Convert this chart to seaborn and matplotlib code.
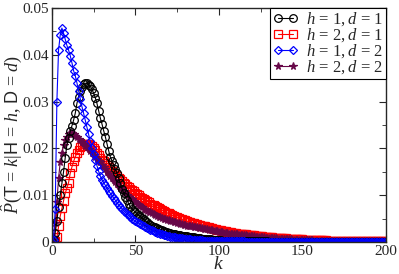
import matplotlib
matplotlib.use("Agg")
import matplotlib.pyplot as plt
import seaborn as sns
import numpy as np

# k values, probabilities in units of 1e-4
k = list(range(201))

p_h1_d1 = [0, 5, 20, 45, 75, 100, 125, 150, 180, 207,
           222, 236, 248, 260, 275, 296, 310, 322, 332, 337,
           339, 339, 336, 333, 326, 318, 308, 296, 280, 265,
           252, 238, 225, 210, 195, 182, 173, 164, 155, 147,
           136, 125, 114, 104, 96, 89, 82, 75, 71, 67,
           64, 60, 57, 54, 51, 48, 45, 42, 39, 36,
           34, 32, 31, 29, 28, 26, 25, 23, 22, 21,
           20, 19, 18, 17, 16, 15, 15, 14, 13, 13,
           12, 12, 11, 11, 10, 10, 9, 9, 8, 8,
           7, 7, 7, 6, 6, 6, 5, 5, 5, 4,
           4, 4, 3, 3, 3, 3, 3, 2, 2, 2,
           2, 2, 2, 2, 1, 1, 1, 1, 1, 1,
           1, 1, 1, 1, 1, 1, 1, 1, 1, 1] + [0] * 71

p_h2_d1 = [0, 0, 2, 10, 33, 55, 72, 88, 104, 115,
           127, 147, 160, 172, 182, 190, 197, 202, 206, 209,
           210, 210, 209, 207, 204, 200, 196, 191, 186, 180,
           176, 172, 168, 164, 160, 156, 152, 148, 144, 141,
           137, 134, 130, 127, 124, 120, 117, 114, 111, 108,
           105, 102, 100, 97, 94, 92, 89, 87, 85, 82,
           80, 78, 76, 74, 72, 70, 68, 66, 64, 62,
           61, 59, 57, 56, 54, 53, 51, 50, 48, 47,
           46, 44, 43, 42, 41, 40, 39, 38, 37, 36,
           35, 34, 33, 32, 31, 30, 29, 28, 27, 26,
           26, 25, 24, 23, 23, 22, 21, 21, 20, 19,
           19, 18, 18, 17, 17, 16, 16, 15, 15, 14,
           14, 14, 13, 13, 12, 12, 12, 11, 11, 11,
           10, 10, 10, 9, 9, 9, 9, 8, 8, 8,
           8, 7, 7, 7, 7, 7, 6, 6, 6, 6,
           6, 5, 5, 5, 5, 5, 5, 4, 4, 4,
           4, 4, 4, 4, 4, 3, 3, 3, 3, 3,
           3, 3, 3, 3, 3, 3, 2, 2, 2, 2,
           2, 2, 2, 2, 2, 2, 2, 2, 2, 2,
           2, 2, 1, 1, 1, 1, 1, 1, 1, 1, 1]

p_h1_d2 = [0, 5, 70, 300, 410, 442, 457, 446, 433, 420,
           410, 398, 383, 366, 355, 340, 323, 306, 289, 275,
           260, 246, 230, 215, 200, 188, 175, 163, 151, 140,
           133, 127, 121, 115, 109, 104, 99, 94, 89, 84,
           79, 75, 71, 67, 64, 60, 57, 54, 50, 47,
           44, 42, 40, 38, 36, 34, 32, 30, 28, 26,
           25, 23, 22, 20, 19, 18, 17, 15, 14, 13,
           12, 11, 11, 10, 10, 9, 9, 8, 8, 7,
           7, 6, 6, 6, 5, 5, 5, 4, 4, 4,
           4, 3, 3, 3, 3, 3, 2, 2, 2, 2,
           2, 2, 2, 1, 1, 1, 1, 1, 1, 1,
           1, 1, 1, 1, 1, 1] + [0] * 85

p_h2_d2 = [0, 10, 40, 86, 136, 170, 190, 207, 218, 225,
           230, 232, 232, 230, 227, 224, 221, 218, 214, 210,
           206, 202, 198, 194, 190, 186, 182, 178, 174, 170,
           165, 160, 155, 150, 145, 140, 136, 132, 128, 124,
           120, 116, 112, 108, 104, 100, 97, 94, 91, 88,
           85, 82, 79, 76, 74, 71, 69, 67, 65, 63,
           61, 59, 57, 56, 54, 53, 51, 50, 48, 47,
           46, 45, 44, 43, 42, 41, 40, 39, 38, 37,
           36, 35, 34, 34, 33, 32, 32, 31, 30, 30,
           29, 28, 27, 27, 26, 25, 25, 24, 23, 23,
           22, 21, 21, 20, 20, 19, 18, 18, 17, 17,
           16, 16, 15, 15, 14, 14, 14, 13, 13, 12,
           12, 12, 11, 11, 11, 10, 10, 10, 9, 9,
           9, 8, 8, 8, 8, 7, 7, 7, 7, 6,
           6, 6, 6, 6, 5, 5, 5, 5, 5, 5,
           4, 4, 4, 4, 4, 4, 4, 3, 3, 3,
           3, 3, 3, 3, 3, 3, 3, 2, 2, 2,
           2, 2, 2, 2, 2, 2, 2, 2, 2, 2,
           2, 1, 1, 1, 1, 1, 1, 1, 1, 1,
           1, 1, 1, 1, 1, 1, 1, 1, 1, 1, 1]

labels = [r"$h\,=\,1,d\,=\,1$", r"$h\,=\,2,d\,=\,1$",
          r"$h\,=\,1,d\,=\,2$", r"$h\,=\,2,d\,=\,2$"]

sns.set_style("ticks")
plt.rcParams["font.family"] = ["Liberation Serif", "DejaVu Serif"]
plt.rcParams["mathtext.fontset"] = "custom"
plt.rcParams["mathtext.rm"] = "Liberation Serif"
plt.rcParams["mathtext.it"] = "Liberation Serif:italic"
plt.rcParams["mathtext.bf"] = "Liberation Serif:bold"
plt.rcParams["mathtext.sf"] = "Liberation Sans"

fig = plt.figure(figsize=(3.99, 2.74), dpi=100)
ax = fig.add_axes([0.130, 0.117, 0.837, 0.854])

series = [
    (p_h2_d1, "#ff0000", "s", "none", labels[1]),
    (p_h2_d2, "#670748", "*", "#670748", labels[3]),
    (p_h1_d1, "#000000", "o", "none", labels[0]),
    (p_h1_d2, "#0000ff", "D", "none", labels[2]),
]
for vals, col, mk, fc, lab in series:
    y = np.array(vals) / 1e4
    sns.lineplot(x=k, y=y, ax=ax, color=col, marker=mk, mfc=fc, mec=col,
                 ms=5.5 if mk != "D" else 4.5, mew=0.9, lw=0.8, label=lab)

ax.set_xlim(0, 200)
ax.set_ylim(0, 0.05)
ax.set_xticks([0, 50, 100, 150, 200])
ax.set_xticks([25, 75, 125, 175], minor=True)
ax.set_yticks([0, 0.01, 0.02, 0.03, 0.04, 0.05])
ax.set_yticks(np.arange(0.005, 0.05, 0.01), minor=True)
ax.set_yticklabels(["0", "0.01", "0.02", "0.03", "0.04", "0.05"])
ax.tick_params(which="both", direction="in", top=True, right=True,
               labelsize=11, pad=2)
ax.tick_params(which="major", length=5)
ax.tick_params(which="minor", length=3)
for s in ax.spines.values():
    s.set_linewidth(1.0)

ax.set_xlabel(r"$k$", fontsize=14)
ax.xaxis.set_label_coords(0.5, -0.062)
ax.set_ylabel(r"$\hat{P}(\mathsf{T}\,=\,k|\mathsf{H}\,=\,h,\,\mathsf{D}\,=\,d)$",
              fontsize=13)
ax.yaxis.set_label_coords(-0.083, 0.46)

h, l = ax.get_legend_handles_labels()
order = [l.index(x) for x in labels]
leg = ax.legend([h[i] for i in order], [l[i] for i in order],
                loc="upper right", fontsize=12, numpoints=2,
                handlelength=1.5, handletextpad=0.5, borderpad=0.15,
                labelspacing=-0.1, borderaxespad=0.0, fancybox=False,
                framealpha=1)
leg.get_frame().set_edgecolor("black")
leg.get_frame().set_linewidth(0.8)

fig.savefig("out.png", dpi=100)
